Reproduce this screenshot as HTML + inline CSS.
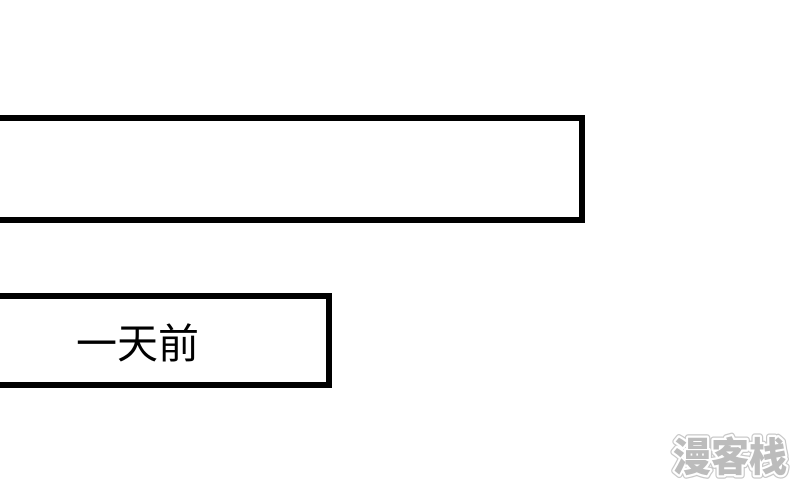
<!DOCTYPE html>
<html>
<head>
<meta charset="utf-8">
<style>
html,body{margin:0;padding:0;background:#fff;}
body{width:800px;height:488px;overflow:hidden;position:relative;}
.b{position:absolute;box-sizing:border-box;border:6px solid #000;background:#fff;}
#t{position:absolute;left:76px;top:315px;width:126px;font:41px/50px "Noto Sans CJK SC","WenQuanYi Zen Hei",sans-serif;color:#000;white-space:nowrap;}
svg{position:absolute;left:660px;top:425px;}
</style>
</head>
<body>
<div class="b" style="left:-10px;top:115px;width:595px;height:108px;"></div>
<div class="b" style="left:-10px;top:293px;width:342px;height:95px;"></div>
<div id="t">一天前</div>
<svg width="140" height="63" viewBox="0 0 140 63">
<text x="13" y="46" font-family="'Noto Sans CJK SC',sans-serif" font-size="40" font-weight="900" textLength="114" lengthAdjust="spacingAndGlyphs" fill="none" stroke="#c8c8c8" stroke-width="7" stroke-linejoin="round">漫客栈</text>
<text x="13" y="46" font-family="'Noto Sans CJK SC',sans-serif" font-size="40" font-weight="900" textLength="114" lengthAdjust="spacingAndGlyphs" fill="none" stroke="#fff" stroke-width="4.5" stroke-linejoin="round">漫客栈</text>
<text x="13" y="46" font-family="'Noto Sans CJK SC',sans-serif" font-size="40" font-weight="900" textLength="114" lengthAdjust="spacingAndGlyphs" fill="#bcbcbc">漫客栈</text>
</svg>
</body>
</html>
